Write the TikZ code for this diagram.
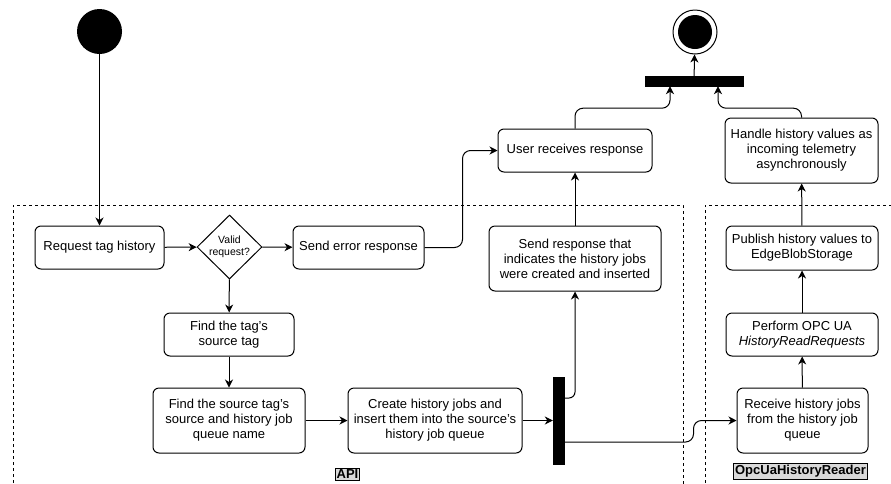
\documentclass[tikz,border=0pt]{standalone}
\usepackage{fontspec}
\setmainfont{Liberation Sans}
\usetikzlibrary{shapes.geometric,arrows.meta,calc}

\tikzset{
  every node/.style={font=\fontsize{13}{15}\selectfont},
  stepbox/.style={draw, rounded corners=6pt, align=center, inner sep=2pt, line width=1pt},
  decision/.style={draw, diamond, align=center, inner sep=0pt, line width=1pt,
    minimum width=65pt, minimum height=64pt, font=\fontsize{10.5}{12.5}\selectfont},
  syncbar/.style={fill=black, draw=black, inner sep=0pt},
  flow/.style={line width=1pt, -{Stealth[length=8pt,width=8pt,inset=2.5pt]}},
  lane/.style={line width=1pt, dash pattern=on 3pt off 3pt},
  lanelabel/.style={draw, fill=black!15, line width=1pt, inner sep=1.5pt,
    font=\bfseries\fontsize{13}{15}\selectfont}
}

\begin{document}
\begin{tikzpicture}[x=1pt, y=-1pt]
\useasboundingbox (0,0) rectangle (891,483);

\begin{scope}
\clip (0,0) rectangle (891,483);
% swimlane outlines (their bottoms run past the lower edge)
\draw[lane] (13,495) -- (13,205) -- (683,205) -- (683,495);
\draw[lane] (705,495) -- (705,205) -- (900,205);
\end{scope}

% start and end
\node[circle, fill=black, inner sep=0pt, minimum size=45pt] (start) at (99.5,31.5) {};
\node[circle, draw, line width=1pt, inner sep=0pt, minimum size=44pt] (end) at (695,32) {};
\fill (end.center) circle (17pt);

% API lane
\node[stepbox, minimum width=129pt, minimum height=43pt] (req) at (99.5,247.5) {Request tag history};
\node[decision] (valid) at (229.5,247) {Valid\\request?};
\node[stepbox, minimum width=131pt, minimum height=43pt] (err) at (358.5,247.5) {Send error response};
\node[stepbox, minimum width=130pt, minimum height=43pt] (findtag) at (229,334.5) {Find the tag's\\source tag};
\node[stepbox, minimum width=152pt, minimum height=65pt] (findsrc) at (229,420.5) {Find the source tag's\\source and history job\\queue name};
\node[stepbox, minimum width=174pt, minimum height=65pt] (create) at (435,420.5) {Create history jobs and\\insert them into the source's\\history job queue};
\node[syncbar, minimum width=11pt, minimum height=87pt] (fork) at (558.5,420.5) {};
\node[stepbox, minimum width=172pt, minimum height=65pt] (sendresp) at (575,258.5) {Send response that\\indicates the history jobs\\were created and inserted};
\node[lanelabel] (apilabel) at (347.5,474.5) {API};

% user side
\node[stepbox, minimum width=154pt, minimum height=43pt] (user) at (575,150.5) {User receives response};
\node[syncbar, minimum width=98pt, minimum height=10pt] (join) at (694,81) {};

% OpcUaHistoryReader lane
\node[stepbox, minimum width=131pt, minimum height=65pt] (receive) at (802.5,420.5) {Receive history jobs\\from the history job\\queue};
\node[stepbox, minimum width=152pt, minimum height=43pt] (perform) at (802,334.5) {Perform OPC UA\\\textit{HistoryReadRequests}};
\node[stepbox, minimum width=152pt, minimum height=44pt] (publish) at (802,248) {Publish history values to\\EdgeBlobStorage};
\node[stepbox, minimum width=153pt, minimum height=65pt] (handle) at (801.5,150.5) {Handle history values as\\incoming telemetry\\asynchronously};
\node[lanelabel] (opclabel) at (800.5,471.5) {OpcUaHistoryReader};

% connectors
\draw[flow] (start) -- (req);
\draw[flow] (req) -- (valid);
\draw[flow] (valid) -- (err);
\draw[flow] (valid) -- (findtag);
\draw[flow] (findtag) -- (findsrc);
\draw[flow] (findsrc) -- (create);
\draw[flow] (create) -- (fork);
\draw[flow, rounded corners=6pt] ([yshift=22.5pt]fork.east) -| (sendresp.south);
\draw[flow, rounded corners=8pt] ([yshift=-21.5pt]fork.east) -| ([xshift=-43pt]receive.west) -- (receive.west);
\draw[flow] (sendresp) -- (user);
\draw[flow, rounded corners=8pt] (err.east) -- ([xshift=38pt]err.east) |- (user.west);
\draw[flow, rounded corners=8pt] (user.north) |- ([xshift=-24pt,yshift=-22pt]join.south) -- ([xshift=-24pt]join.south);
\draw[flow, rounded corners=8pt] (handle.north) |- ([xshift=24pt,yshift=-22pt]join.south) -- ([xshift=24pt]join.south);
\draw[flow] (join) -- (end);
\draw[flow] (receive) -- (perform);
\draw[flow] (perform) -- (publish);
\draw[flow] (publish) -- (handle);
\end{tikzpicture}
\end{document}
